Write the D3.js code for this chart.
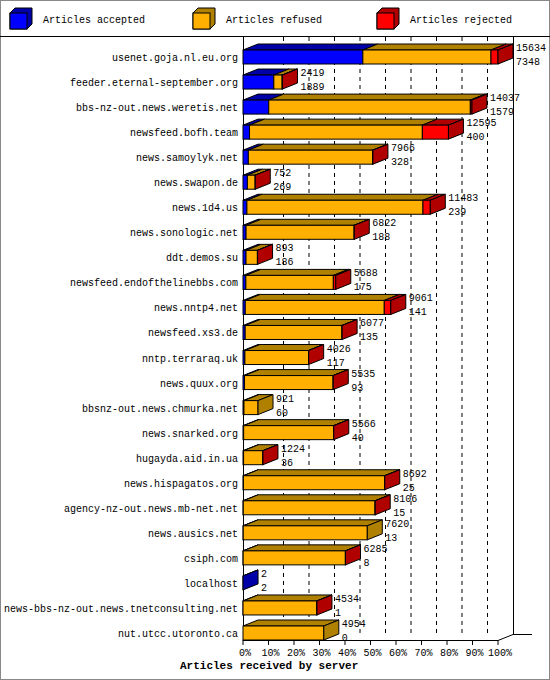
<!DOCTYPE html><html><head><meta charset="utf-8"><script src="https://cdn.jsdelivr.net/npm/d3@7"></script>
<style>body{margin:0;background:#fff}text{font-family:"Liberation Mono","DejaVu Sans Mono",monospace;font-size:10px}</style></head><body><svg id="c" width="550" height="680"></svg><script>
const servers=["usenet.goja.nl.eu.org","feeder.eternal-september.org","bbs-nz-out.news.weretis.net","newsfeed.bofh.team","news.samoylyk.net","news.swapon.de","news.1d4.us","news.sonologic.net","ddt.demos.su","newsfeed.endofthelinebbs.com","news.nntp4.net","newsfeed.xs3.de","nntp.terraraq.uk","news.quux.org","bbsnz-out.news.chmurka.net","news.snarked.org","hugayda.aid.in.ua","news.hispagatos.org","agency-nz-out.news.mb-net.net","news.ausics.net","csiph.com","localhost","news-bbs-nz-out.news.tnetconsulting.net","nut.utcc.utoronto.ca"];
const offered=[15634,2419,14037,12595,7966,752,11483,6822,893,5688,9061,6077,4026,5535,921,5566,1224,8692,8106,7620,6285,2,4534,4954];
const accepted=[7348,1889,1579,400,328,269,239,188,186,175,141,135,117,93,60,40,36,25,15,13,8,2,1,0];
const rejected=[430,20,100,1600,20,5,450,10,10,150,400,10,10,10,0,10,10,10,10,0,10,0,10,0];
const legendLabels=["Articles accepted","Articles refused","Articles rejected"];
const ticks=[0,10,20,30,40,50,60,70,80,90,100];
const col=["#0000ff","#ffb000","#ff0000"],dark=["#0000a8","#b08000","#b00000"];
const svg=d3.select("#c");
const DX=15,DY=-6,H=14;
const x=d3.scaleLinear().domain([0,d3.max(offered)]).range([243,498]);
const xp=d3.scaleLinear().domain([0,100]).range([243,498]);
const y=d3.scalePoint().domain(servers).range([57,633]);
svg.append("rect").attr("x",0.5).attr("y",0.5).attr("width",549).attr("height",679).attr("fill","none").attr("stroke","#888");
legendLabels.forEach((l,i)=>{const lx=[10,193,377][i],ly=8;
 svg.append("path").attr("d",`M${lx},${ly+5}L${lx+5},${ly}L${lx+22},${ly}L${lx+22},${ly+16}L${lx+17},${ly+21}L${lx},${ly+21}Z`).attr("fill",dark[i]).attr("stroke","#000");
 svg.append("rect").attr("x",lx).attr("y",ly+5).attr("width",17).attr("height",16).attr("fill",col[i]).attr("stroke","#000");
 svg.append("text").attr("x",lx+33).attr("y",ly+15).text(l);});
svg.append("line").attr("x1",0).attr("x2",550).attr("y1",36.5).attr("y2",36.5).attr("stroke","#000");
ticks.slice(1,10).forEach(t=>svg.append("line").attr("x1",xp(t)+DX).attr("x2",xp(t)+DX).attr("y1",37).attr("y2",634).attr("stroke","#000").attr("stroke-dasharray","4,4"));
svg.append("line").attr("x1",xp(100)+DX+.5).attr("x2",xp(100)+DX+.5).attr("y1",37).attr("y2",634).attr("stroke","#000");
svg.append("line").attr("x1",243.5).attr("x2",243.5).attr("y1",37).attr("y2",640).attr("stroke","#000");
svg.append("line").attr("x1",243).attr("x2",498).attr("y1",640.5).attr("y2",640.5).attr("stroke","#000");
svg.append("line").attr("x1",498).attr("x2",498+DX).attr("y1",640.5).attr("y2",640.5+DY).attr("stroke","#000");
svg.append("line").attr("x1",498+DX).attr("x2",532).attr("y1",634.5).attr("y2",634.5).attr("stroke","#000");
ticks.forEach(t=>{svg.append("line").attr("x1",xp(t)).attr("x2",xp(t)).attr("y1",640).attr("y2",645).attr("stroke","#000");
 svg.append("text").attr("x",xp(t)+2).attr("y",656).attr("text-anchor","middle").text(t+"%");});
svg.append("text").attr("x",180).attr("y",669).style("font-weight","bold").style("font-size","11px").text("Articles received by server");
servers.forEach((s,i)=>{const cy=y(s),top=cy-H/2;
 const ref=offered[i]-accepted[i]-rejected[i];const vals=[accepted[i],ref,rejected[i]];
 let acc=0;const segs=[];vals.forEach((v,k)=>{if(v>0){segs.push({k,a:x(acc),b:x(acc+v)});}acc+=v;});
 const g=svg.append("g");
 segs.forEach(sg=>g.append("path").attr("d",`M${sg.a},${top}L${sg.a+DX},${top+DY}L${sg.b+DX},${top+DY}L${sg.b},${top}Z`).attr("fill",dark[sg.k]).attr("stroke","#000"));
 segs.forEach(sg=>g.append("rect").attr("x",sg.a).attr("y",top).attr("width",sg.b-sg.a).attr("height",H).attr("fill",col[sg.k]).attr("stroke","#000"));
 const last=segs[segs.length-1],e=x(offered[i]);
 g.append("path").attr("d",`M${e},${top}L${e+DX},${top+DY}L${e+DX},${top+DY+H}L${e},${top+H}Z`).attr("fill",dark[last.k]).attr("stroke","#000");
 svg.append("text").attr("x",238).attr("y",cy+4).attr("text-anchor","end").text(s);
 svg.append("text").attr("x",e+DX+3).attr("y",cy-6).text(offered[i]);
 svg.append("text").attr("x",e+DX+3).attr("y",cy+8).text(accepted[i]);
});
</script></body></html>
